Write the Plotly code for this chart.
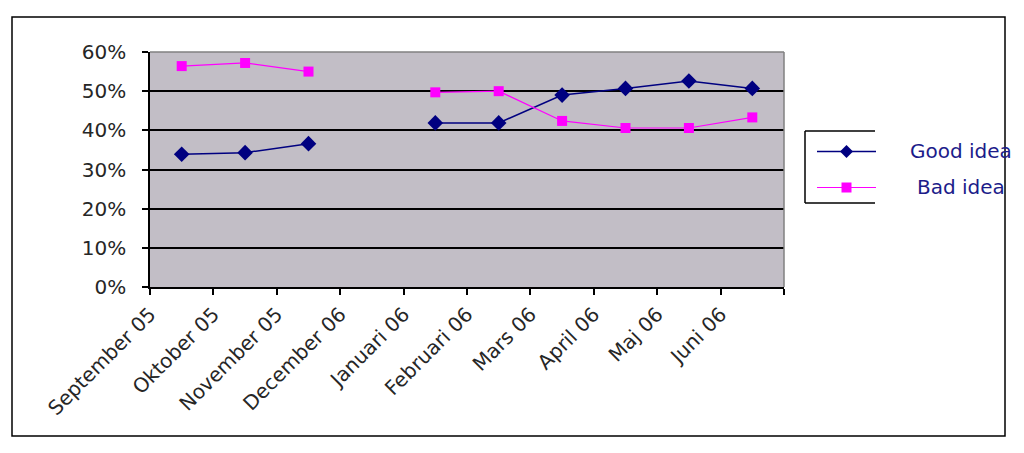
import plotly.graph_objects as go

# ---- data ----
months = ["September 05", "Oktober 05", "November 05", "December 06", "Januari 06",
          "Februari 06", "Mars 06", "April 06", "Maj 06", "Juni 06"]
good_idea = [0.339, 0.343, 0.366, None, 0.419, 0.419, 0.490, 0.507, 0.526, 0.507]
bad_idea = [0.564, 0.572, 0.550, None, 0.497, 0.500, 0.424, 0.406, 0.406, 0.433]
y_ticks = [0.0, 0.1, 0.2, 0.3, 0.4, 0.5, 0.6]
series_names = ["Good idea", "Bad idea"]

# ---- layout geometry (pixels) ----
W, H = 1024, 453
L, R, T, B = 150, 784, 52, 287


def px(x):
    return (x - L) / (R - L)


def py(y):
    return (B - y) / (B - T)


NAVY = "#000080"
MAGENTA = "#FF00FF"
FONT = "DejaVu Sans"
TXT = "#262626"

idx = list(range(len(months)))

fig = go.Figure()
fig.add_trace(go.Scatter(
    x=idx, y=good_idea, mode="lines+markers", name=series_names[0],
    line=dict(color=NAVY, width=1.5),
    marker=dict(symbol="diamond", size=12, color=NAVY),
    showlegend=False, cliponaxis=False))
fig.add_trace(go.Scatter(
    x=idx, y=bad_idea, mode="lines+markers", name=series_names[1],
    line=dict(color=MAGENTA, width=1.2),
    marker=dict(symbol="square", size=10, color=MAGENTA),
    showlegend=False, cliponaxis=False))

tickvals = [i - 0.5 for i in range(len(months) + 1)]
ticktext = months + [""]

fig.update_layout(
    width=W, height=H,
    margin=dict(l=L, r=W - R, t=T, b=H - B, pad=0),
    paper_bgcolor="white",
    plot_bgcolor="#C2BEC6",
    font=dict(family=FONT, size=19, color=TXT),
    xaxis=dict(
        range=[-0.5, len(months) - 0.5], tickmode="array",
        tickvals=tickvals, ticktext=ticktext, tickangle=-45,
        showgrid=False, zeroline=False,
        showline=True, linecolor="black", linewidth=1.5,
        ticks="outside", ticklen=6, tickwidth=1.5, tickcolor="black",
        tickfont=dict(family=FONT, size=20, color=TXT),
    ),
    yaxis=dict(
        range=[0, 0.6], tickmode="array", tickvals=y_ticks,
        tickformat=".0%",
        showgrid=True, gridcolor="black", gridwidth=1.5,
        zeroline=False,
        showline=True, linecolor="black", linewidth=1.5,
        ticks="outside", ticklen=6, tickwidth=1.5, tickcolor="black",
        ticklabelstandoff=12,
        tickfont=dict(family=FONT, size=20, color=TXT),
    ),
)

shapes = []
# outer border
shapes.append(dict(type="rect", xref="paper", yref="paper",
                   x0=px(12), y0=py(17), x1=px(1005), y1=py(436),
                   line=dict(color="black", width=1.5), layer="below"))
# plot area top / right border (gray)
shapes.append(dict(type="line", xref="paper", yref="paper",
                   x0=0, y0=1, x1=1, y1=1, line=dict(color="#808080", width=1.5), layer="above"))
shapes.append(dict(type="line", xref="paper", yref="paper",
                   x0=1, y0=0, x1=1, y1=1, line=dict(color="#808080", width=1.5), layer="above"))
# legend box (left, top, bottom)
lb_x0, lb_x1, lb_y0, lb_y1 = 805, 875, 131, 203
shapes.append(dict(type="line", xref="paper", yref="paper",
                   x0=px(lb_x0), y0=py(lb_y0), x1=px(lb_x1), y1=py(lb_y0),
                   line=dict(color="black", width=1.5)))
shapes.append(dict(type="line", xref="paper", yref="paper",
                   x0=px(lb_x0), y0=py(lb_y0), x1=px(lb_x0), y1=py(lb_y1),
                   line=dict(color="black", width=1.5)))
shapes.append(dict(type="line", xref="paper", yref="paper",
                   x0=px(lb_x0), y0=py(lb_y1), x1=px(lb_x1), y1=py(lb_y1),
                   line=dict(color="black", width=1.5)))
# legend samples
leg_rows = [(151.5, NAVY, "diamond", 1.5), (187.5, MAGENTA, "square", 1.2)]
for ycen, col, sym, lw in leg_rows:
    shapes.append(dict(type="line", xref="paper", yref="paper",
                       x0=px(817), y0=py(ycen), x1=px(876), y1=py(ycen),
                       line=dict(color=col, width=lw)))
    cx = 846.5
    if sym == "diamond":
        d = 6.5
        path = (f"M {px(cx - d)},{py(ycen)} L {px(cx)},{py(ycen - d)} "
                f"L {px(cx + d)},{py(ycen)} L {px(cx)},{py(ycen + d)} Z")
        shapes.append(dict(type="path", xref="paper", yref="paper", path=path,
                           fillcolor=col, line=dict(color=col, width=0)))
    else:
        s = 5
        shapes.append(dict(type="rect", xref="paper", yref="paper",
                           x0=px(cx - s), y0=py(ycen - s), x1=px(cx + s), y1=py(ycen + s),
                           fillcolor=col, line=dict(color=col, width=0)))
fig.update_layout(shapes=shapes)

annotations = []
for (ycen, col, sym, lw), name in zip(leg_rows, series_names):
    annotations.append(dict(xref="paper", yref="paper", x=px(961), y=py(ycen - 1),
                            text=name, showarrow=False, xanchor="center", yanchor="middle",
                            font=dict(family=FONT, size=20, color="#1C1C8A")))
fig.update_layout(annotations=annotations)

fig.write_html("out.html")
